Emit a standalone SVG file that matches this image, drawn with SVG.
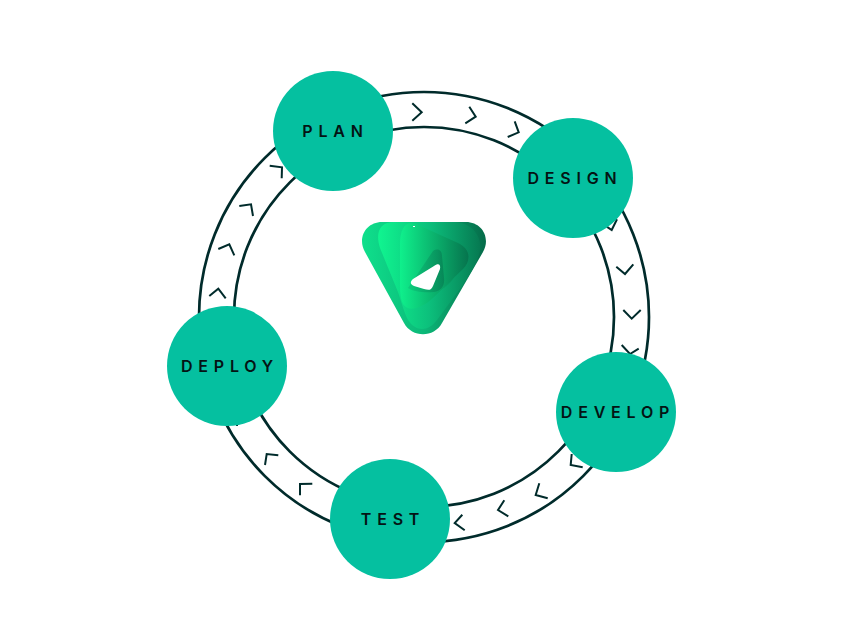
<svg xmlns="http://www.w3.org/2000/svg" width="848" height="636" viewBox="0 0 848 636">
<style>
.ring{fill:none;stroke:#002b2b;stroke-width:2.7}
.chev{fill:none;stroke:#002b2b;stroke-width:2}
.node{fill:#05c0a0}
.label{font-family:"Inter","Liberation Sans",sans-serif;font-weight:600;font-size:16px;letter-spacing:5.800px;fill:#041414;text-anchor:middle}
</style>
<defs>
<linearGradient id="g1" gradientUnits="userSpaceOnUse" x1="362" x2="486" y1="0" y2="0"><stop offset="0" stop-color="#0fe08c"/><stop offset=".5" stop-color="#0cb878"/><stop offset="1" stop-color="#056b49"/></linearGradient>
<linearGradient id="g2" gradientUnits="userSpaceOnUse" x1="378" x2="480" y1="0" y2="0"><stop offset="0" stop-color="#10f590"/><stop offset=".5" stop-color="#0cc07c"/><stop offset="1" stop-color="#067a52"/></linearGradient>
<linearGradient id="g3" gradientUnits="userSpaceOnUse" x1="400" x2="468" y1="0" y2="0"><stop offset="0" stop-color="#0ff08c"/><stop offset="1" stop-color="#06754e"/></linearGradient>
<linearGradient id="g4" gradientUnits="userSpaceOnUse" x1="410" x2="456" y1="0" y2="0"><stop offset="0" stop-color="#0cc87a"/><stop offset="1" stop-color="#056b49"/></linearGradient>
</defs>
<g id="connectors">
<circle class="ring" cx="424" cy="317" r="225"/>
<circle class="ring" cx="424" cy="317" r="190"/>
<polyline class="chev" points="412.3,103.3 421.7,112.3 412.3,120.7"/>
<polyline class="chev" points="469.3,106.7 475.7,116.7 465.3,123.3"/>
<polyline class="chev" points="514.7,121.3 518.7,132.3 507.7,137"/>
<polyline class="chev" points="606.7,226.7 611.7,230 617,219.3"/>
<polyline class="chev" points="616.3,266.7 625,274 633.3,264.3"/>
<polyline class="chev" points="623.3,310 631.7,318.7 640.7,310"/>
<polyline class="chev" points="621.7,345 630,354 638.7,348.7"/>
<polyline class="chev" points="571.7,454 570.7,465 582.7,467.3"/>
<polyline class="chev" points="539.3,483.3 535.7,495 547.7,498.3"/>
<polyline class="chev" points="504.3,500.3 498,510 508.3,516.3"/>
<polyline class="chev" points="462.3,514.7 454.7,523 464.7,530.3"/>
<polyline class="chev" points="300,495.3 300,484 312.3,483.7"/>
<polyline class="chev" points="265,465 266.7,454 278.3,455.3"/>
<polyline class="chev" points="237,426 237,415 249,413"/>
<polyline class="chev" points="209.3,296 218.3,288.7 225.7,298.3"/>
<polyline class="chev" points="218.3,249 229.3,244.3 234.3,255.3"/>
<polyline class="chev" points="239.3,206 251,204.3 253,216"/>
<polyline class="chev" points="269.7,165.7 282,167.3 281.7,178.3"/>
</g>
<g id="logo">
<path fill="url(#g1)" d="M382 222H466C482 222 491 238 483 252L442 323C434 338 412 338 404 323L365 252C357 238 366 222 382 222Z"/>
<path fill="url(#g2)" d="M394 222H456C474 224 482 238 480 250C478 262 470 274 462 286L437 320C428 332 416 332 408 320C404 312 402 304 398 292L380 248C375 232 380 222 394 222Z"/>
<path fill="url(#g3)" d="M416 224L458 243C471 249 471 261 463 269L434 297C420 310 408 312 403 304C401 300 400 294 400 286V244C400 228 406 220 416 224Z"/>
<path fill="url(#g3)" opacity=".75" d="M436 250C441 248 443 252 443 258L456 266C458 274 452 282 444 288C434 294 420 296 407 291Z"/>
<path fill="url(#g4)" opacity=".85" d="M433 251C438 248 442 250 442 256L444 278C445 286 441 291 434 292C425 293 414 292 408 288Z"/>
<path fill="#fff" d="M434 266C438 263 441 264 440 269L433 286C431 291 428 290 424 289L414 286C410 284 410 282 413 279Z"/>
<rect x="413" y="226" width="2" height="1" fill="#fff"/>
</g>
<g id="plan"><circle class="node" cx="333" cy="131" r="60"/><text class="label" x="335.500" y="137">PLAN</text></g>
<g id="design"><circle class="node" cx="573" cy="178" r="60"/><text class="label" x="575" y="184">DESIGN</text></g>
<g id="develop"><circle class="node" cx="616" cy="412" r="60"/><text class="label" x="618" y="418">DEVELOP</text></g>
<g id="test"><circle class="node" cx="390" cy="519" r="60"/><text class="label" x="393" y="525">TEST</text></g>
<g id="deploy"><circle class="node" cx="227" cy="366" r="60"/><text class="label" x="230" y="372">DEPLOY</text></g>
</svg>
